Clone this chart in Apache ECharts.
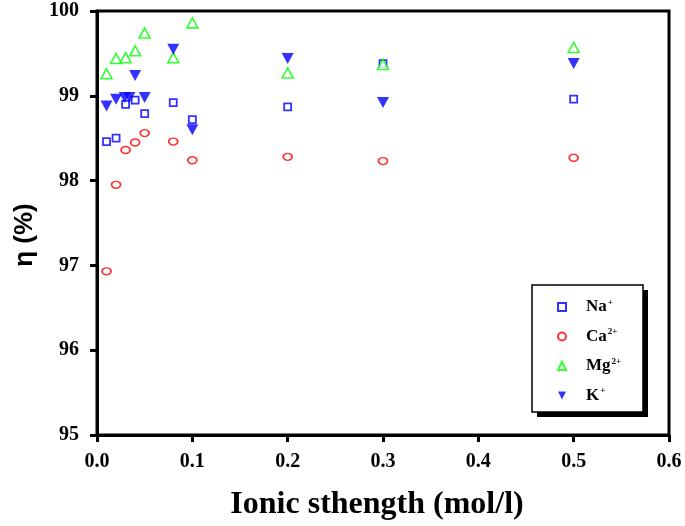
<!DOCTYPE html>
<html><head><meta charset="utf-8">
<script src="https://cdn.jsdelivr.net/npm/echarts@6/dist/echarts.min.js"></script>
<style>html,body{margin:0;padding:0;background:#fff}#c{width:685px;height:526px}</style>
</head><body><div id="c"></div>
<script>
const xNa = [0.01,0.02,0.03,0.04,0.05,0.08,0.1,0.2,0.3,0.5];
const yNa = [98.46,98.50,98.90,98.95,98.79,98.92,98.72,98.87,99.38,98.96];
const xCa = [0.01,0.02,0.03,0.04,0.05,0.08,0.1,0.2,0.3,0.5];
const yCa = [96.93,97.95,98.36,98.45,98.56,98.46,98.24,98.28,98.23,98.27];
const xMg = [0.01,0.02,0.03,0.04,0.05,0.08,0.1,0.2,0.3,0.5];
const yMg = [99.26,99.44,99.45,99.53,99.74,99.45,99.86,99.27,99.37,99.57];
const xK = [0.01,0.02,0.029,0.034,0.04,0.05,0.08,0.1,0.2,0.3,0.5];
const yK = [98.88,98.96,98.98,98.98,99.24,98.98,99.55,98.60,99.44,98.92,99.38];
const xTicks = ['0.0','0.1','0.2','0.3','0.4','0.5','0.6'];
const yTicks = ['95','96','97','98','99','100'];
const legendNames = ['Na', 'Ca', 'Mg', 'K'];
const legendCharges = ['+', '2+', '2+', '+'];

const pair = (xs, ys) => xs.map((x, i) => [x, ys[i]]);
const serif = '"Liberation Serif", "Times New Roman", serif';
const downTri = 'path://M0,0 L10,0 L5,10 Z';

const chart = echarts.init(document.getElementById('c'));
chart.setOption({
  animation: false,
  backgroundColor: '#fff',
  grid: { left: 97, right: 16, top: 11, bottom: 91, show: true, borderColor: '#000', borderWidth: 3 },
  graphic: [
    { type: 'rect', z: 1, shape: { x: 537, y: 290, width: 111, height: 127 }, style: { fill: '#000' } },
    { type: 'rect', z: 2, shape: { x: 532, y: 285, width: 111, height: 127 }, style: { fill: '#fff', stroke: '#000', lineWidth: 1.5 } }
  ],
  xAxis: {
    type: 'value', min: 0, max: 0.6, interval: 0.1,
    name: 'Ionic sthength (mol/l)', nameLocation: 'middle', nameGap: 54,
    nameTextStyle: { fontFamily: serif, fontWeight: 'bold', fontSize: 32, color: '#000', padding: [0, 12, 0, 0] },
    axisLine: { show: true, lineStyle: { color: '#000', width: 3 } },
    axisTick: { show: true, length: 7, lineStyle: { color: '#000', width: 3 } },
    splitLine: { show: false },
    axisLabel: { margin: 17, fontFamily: serif, fontWeight: 'bold', fontSize: 20, color: '#000',
      formatter: v => xTicks[Math.round(v * 10)] }
  },
  yAxis: {
    type: 'value', min: 95, max: 100, interval: 1,
    name: 'η (%)', nameLocation: 'middle', nameGap: 55, nameRotate: 90,
    nameTextStyle: { fontFamily: '"Liberation Sans", Arial, sans-serif', fontWeight: 'bold', fontSize: 26, color: '#000',
      padding: [0, 24, 0, 0] },
    axisLine: { show: true, lineStyle: { color: '#000', width: 3 } },
    axisTick: { show: true, length: 7, lineStyle: { color: '#000', width: 3 } },
    splitLine: { show: false },
    axisLabel: { margin: 18, fontFamily: serif, fontWeight: 'bold', fontSize: 20, color: '#000',
      formatter: v => yTicks[Math.round(v - 95)] }
  },
  legend: {
    z: 10,
    orient: 'vertical', left: 557, top: 298,
    padding: 0,
    itemGap: 12,
    itemWidth: 8, itemHeight: 8,
    textStyle: {
      fontFamily: serif, fontWeight: 'bold', fontSize: 17, color: '#000',
      rich: {
        b: { fontFamily: serif, fontWeight: 'bold', fontSize: 17, color: '#000', lineHeight: 18, padding: [0, 0, 0, 15] },
        s: { fontFamily: serif, fontWeight: 'bold', fontSize: 9, color: '#000', verticalAlign: 'top', lineHeight: 18, padding: [0, 0, 8, 1] }
      }
    },
    formatter: name => '{b|' + name + '}{s|' + legendCharges[legendNames.indexOf(name)] + '}',
    data: legendNames
  },
  series: [
    { name: 'Na', type: 'scatter', z: 3, data: pair(xNa, yNa), symbol: 'rect', symbolSize: 7,
      itemStyle: { color: '#fff', borderColor: '#0000ff', borderWidth: 1.8 } },
    { name: 'Ca', type: 'scatter', z: 3, data: pair(xCa, yCa), symbol: 'circle', symbolSize: [9, 7],
      itemStyle: { color: '#fff', borderColor: '#ff0000', borderWidth: 1.6 } },
    { name: 'Mg', type: 'scatter', z: 3, data: pair(xMg, yMg), symbol: 'triangle', symbolSize: [11, 10],
      itemStyle: { color: '#fff', borderColor: '#00ff00', borderWidth: 1.6 } },
    { name: 'K', type: 'scatter', z: 3, data: pair(xK, yK), symbol: downTri, symbolSize: [12, 11],
      itemStyle: { color: '#0000ff', borderColor: '#0000ff', borderWidth: 0 } }
  ]
});
</script>
</body></html>
